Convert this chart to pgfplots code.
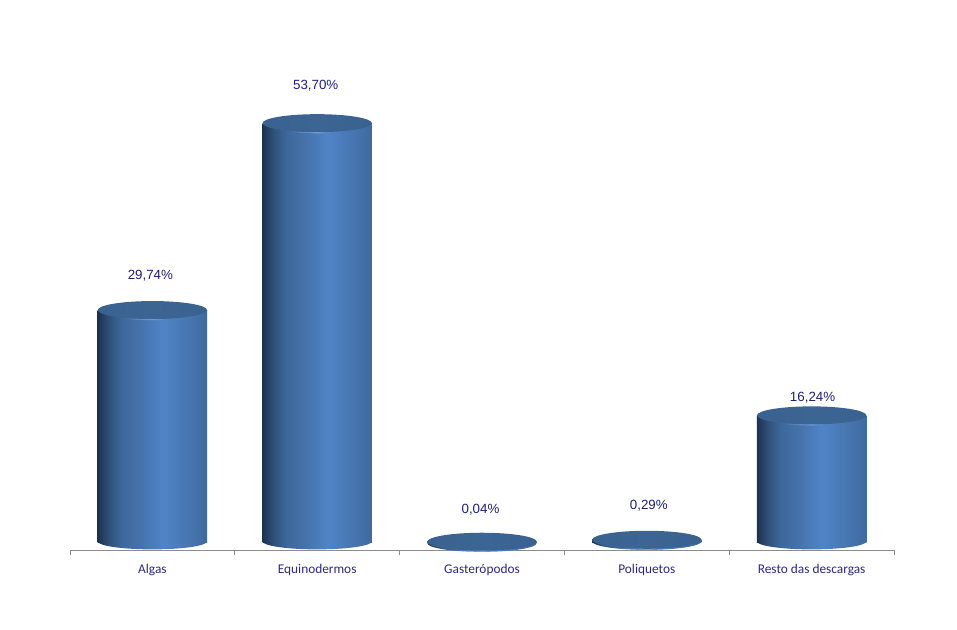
\documentclass[border=0pt]{standalone}
\usepackage{pgfplots}
\usepackage{pgfplotstable}
\usepackage{fontspec}
\setmainfont{Liberation Sans}
\newfontfamily\catfont{Carlito}
\pgfplotsset{compat=1.18}
\definecolor{lab}{HTML}{1F1F78}
\definecolor{catc}{HTML}{2B2B7C}
\definecolor{cA}{HTML}{1D324F}
\definecolor{cB}{HTML}{2F5079}
\definecolor{cC}{HTML}{3D689C}
\definecolor{cD}{HTML}{4673AC}
\definecolor{cE}{HTML}{4F83C6}
\definecolor{cF}{HTML}{4877B2}
\definecolor{cG}{HTML}{3F6A9F}
\pgfdeclarehorizontalshading{cylbody}{100bp}{
 color(0bp)=(cA);color(25bp)=(cA);color(30bp)=(cB);color(36bp)=(cC);
 color(45bp)=(cD);color(54bp)=(cE);color(56bp)=(cE);color(65bp)=(cF);color(75bp)=(cG);color(100bp)=(cG)}
\definecolor{rB}{HTML}{78A4E0}
\pgfdeclarehorizontalshading{cylrim}{100bp}{
 color(0bp)=(cA);color(25bp)=(cA);color(30bp)=(cB);color(36bp)=(cC);
 color(50bp)=(rB);color(56bp)=(cE);color(65bp)=(cF);color(75bp)=(cG);color(100bp)=(cG)}
\definecolor{tA}{HTML}{3A6290}
\definecolor{tB}{HTML}{3D6594}
\pgfdeclarehorizontalshading{cyltop}{100bp}{
 color(0bp)=(tA);color(25bp)=(tA);color(50bp)=(tB);color(75bp)=(tA);color(100bp)=(tA)}
\pgfdeclareplotmark{ellbody}{\pgfpathmoveto{\pgfqpoint{-41pt}{0.5pt}}\pgfpatharc{180}{360}{41pt and 6.0pt}\pgfpathlineto{\pgfqpoint{41pt}{0.5pt}}\pgfpathclose\pgfshadepath{cylbody}{0}\pgfusepath{discard}}
\pgfdeclareplotmark{ellrim}{\pgfpathellipse{\pgfqpoint{0pt}{-1pt}}{\pgfqpoint{41pt}{0pt}}{\pgfqpoint{0pt}{6.6pt}}\pgfshadepath{cylrim}{0}\pgfusepath{discard}}
\pgfdeclareplotmark{elltop}{\pgfpathellipse{\pgfpointorigin}{\pgfqpoint{41pt}{0pt}}{\pgfqpoint{0pt}{6.75pt}}\pgfshadepath{cyltop}{0}\pgfusepath{discard}}
\pgfplotstableread{
x y lab off xoff
0 29.74 29,74\% 34.5 -2
1 53.70 53,70\% 37.5 -1.5
2 0.04 0,04\% 32.5 -1.5
3 0.29 0,29\% 34 2
4 16.24 16,24\% 17.5 1
}\vals
\begin{document}
\begin{tikzpicture}[x=1pt,y=1pt]
\path[use as bounding box,fill=white] (0,0) rectangle (717.75pt,471.75pt);
\begin{axis}[
 at={(52.5pt,59.25pt)},anchor=south west,
 scale only axis,width=618pt,height=375pt,
 xmin=-0.5,xmax=4.5,ymin=-1.02,ymax=63.08,
 clip=false,
 axis y line=none,
 axis x line*=bottom,
 x axis line style={draw=black!45,line width=0.6pt,-},
 xtick={0,1,2,3,4},
 xticklabels={Algas,Equinodermos,Gasterópodos,Poliquetos,Resto das descargas},
 minor xtick={-0.5,0.5,1.5,2.5,3.5,4.5},
 major tick length=0pt,
 minor tick length=4pt,
 tick align=outside,
 tick pos=bottom,
 every minor tick/.style={draw=black!45,line width=0.6pt},
 xticklabel style={font=\catfont\fontsize{10}{12}\selectfont,text=catc,yshift=-7.5pt},
 barbody/.style={ybar,bar shift=0pt,bar width=82pt,draw=none,shade,shading=cylbody},
 ]
\addplot[only marks,mark=ellbody] table[x=x,y expr=0] {\vals};
\addplot[barbody] coordinates {(0,29.74)};
\addplot[barbody] coordinates {(1,53.70)};
\addplot[barbody] coordinates {(2,0.04)};
\addplot[barbody] coordinates {(3,0.29)};
\addplot[barbody] coordinates {(4,16.24)};
\addplot[only marks,mark=ellrim] table[x=x,y=y] {\vals};
\addplot[only marks,mark=elltop] table[x=x,y=y] {\vals};
\addplot[draw=none,mark=none,
  visualization depends on={\thisrow{off}*0.75 \as \off},
  visualization depends on={\thisrow{xoff}*0.75 \as \xoff},
  nodes near coords,
  point meta=explicit symbolic,
  every node near coord/.append style={anchor=center,yshift=\off pt,xshift=\xoff pt,font=\fontsize{10}{12}\selectfont,text=lab,inner sep=0pt},
 ] table[x=x,y=y,meta=lab] {\vals};
\end{axis}
\end{tikzpicture}
\end{document}
